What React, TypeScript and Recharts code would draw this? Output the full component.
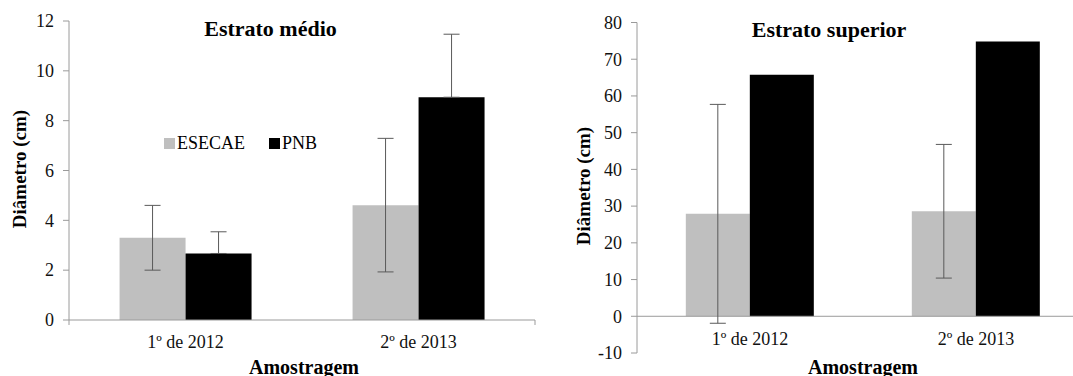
import React from 'react';
import { BarChart, Bar, XAxis, YAxis, ErrorBar, ReferenceLine } from 'recharts';

const samplings = ['1º de 2012', '2º de 2013'];

// Estrato médio (cm)
const medioEsecae = [3.3, 4.61];
const medioEsecaeErr = [1.3, 2.68];
const medioPnb = [2.67, 8.94];
const medioPnbErr = [0.87, 2.53];
const medioTicks = [0, 2, 4, 6, 8, 10, 12];

// Estrato superior (cm)
const superiorEsecae = [27.9, 28.6];
const superiorEsecaeErr = [29.8, 18.2];
const superiorPnb = [65.8, 74.8];
const superiorTicks = [-10, 0, 10, 20, 30, 40, 50, 60, 70, 80];

const series = [
  { key: 'esecae', name: 'ESECAE', color: '#bfbfbf' },
  { key: 'pnb', name: 'PNB', color: '#000000' },
];

const medioData = samplings.map((s, i) => ({
  amostragem: s,
  esecae: medioEsecae[i],
  esecaeErr: medioEsecaeErr[i],
  pnb: medioPnb[i],
  pnbErr: [0, medioPnbErr[i]],
}));

const superiorData = samplings.map((s, i) => ({
  amostragem: s,
  esecae: superiorEsecae[i],
  esecaeErr: superiorEsecaeErr[i],
  pnb: superiorPnb[i],
}));

const font = "'Liberation Serif', 'Times New Roman', serif";
const axisGray = '#9a9a9a';
const errColor = '#5a5a5a';
const labelStyle: React.CSSProperties = { fontFamily: font, fontSize: 18, fill: '#111' };

// tick text drawn by hand so the serif face and size stick
const CategoryTick = (props: any) => (
  <text x={props.x} y={props.y} dy="0.71em" textAnchor="middle" style={labelStyle}>
    {props.payload.value}
  </text>
);

const ValueTick = (props: any) => (
  <text x={props.x} y={props.y} dy="0.35em" textAnchor="end" style={labelStyle}>
    {props.payload.value}
  </text>
);

const textBox = (left: number, top: number, size: number, bold: boolean, rotate = 0): React.CSSProperties => ({
  position: 'absolute',
  left,
  top,
  transform: `translate(-50%, -50%) rotate(${rotate}deg)`,
  fontFamily: font,
  fontSize: size,
  fontWeight: bold ? 'bold' : 'normal',
  lineHeight: 1,
  whiteSpace: 'nowrap',
  color: '#000',
});

function MedioChart() {
  return (
    <BarChart
      width={560}
      height={376}
      data={medioData}
      margin={{ top: 21, right: 25, bottom: 26, left: 9 }}
      barCategoryGap="21.7%"
      barGap={0}
    >
      <XAxis
        dataKey="amostragem"
        interval={0}
        height={30}
        axisLine={{ stroke: axisGray }}
        tickLine={false}
        tickSize={6}
        tickMargin={9}
        tick={<CategoryTick />}
      />
      <XAxis xAxisId="edge" type="number" domain={[0, 2]} hide />
      <YAxis
        domain={[0, 12]}
        ticks={medioTicks}
        width={60}
        axisLine={{ stroke: axisGray }}
        tickLine={{ stroke: axisGray }}
        tickSize={6}
        tickMargin={9}
        tick={<ValueTick />}
      />
      {[0, 1].map((x) => (
        <ReferenceLine
          key={x}
          xAxisId="edge"
          segment={[{ x, y: 0 }, { x, y: -0.2 }]}
          stroke={axisGray}
          ifOverflow="visible"
        />
      ))}
      <Bar dataKey="esecae" name="ESECAE" fill={series[0].color} isAnimationActive={false}>
        <ErrorBar dataKey="esecaeErr" direction="y" width={8} stroke={errColor} strokeWidth={1} isAnimationActive={false} />
      </Bar>
      <Bar dataKey="pnb" name="PNB" fill={series[1].color} isAnimationActive={false}>
        <ErrorBar dataKey="pnbErr" direction="y" width={8} stroke={errColor} strokeWidth={1} isAnimationActive={false} />
      </Bar>
    </BarChart>
  );
}

function SuperiorChart() {
  return (
    <BarChart
      width={540}
      height={376}
      data={superiorData}
      margin={{ top: 22.5, right: 11, bottom: 3, left: 17 }}
      barCategoryGap="21.6%"
      barGap={0}
    >
      {/* labels sit just under the zero line, not under the -10 floor */}
      <XAxis
        dataKey="amostragem"
        interval={0}
        height={20}
        axisLine={false}
        tickLine={false}
        tickSize={6}
        tickMargin={-27}
        tick={<CategoryTick />}
      />
      <XAxis xAxisId="edge" type="number" domain={[0, 2]} hide />
      <YAxis
        domain={[-10, 80]}
        ticks={superiorTicks}
        width={60}
        axisLine={{ stroke: axisGray }}
        tickLine={{ stroke: axisGray }}
        tickSize={6}
        tickMargin={9}
        tick={<ValueTick />}
      />
      <ReferenceLine y={0} stroke={axisGray} />
      <ReferenceLine
        xAxisId="edge"
        segment={[{ x: 1, y: 0 }, { x: 1, y: -1.4 }]}
        stroke={axisGray}
        ifOverflow="visible"
      />
      <Bar dataKey="esecae" name="ESECAE" fill={series[0].color} isAnimationActive={false}>
        <ErrorBar dataKey="esecaeErr" direction="y" width={8} stroke={errColor} strokeWidth={1} isAnimationActive={false} />
      </Bar>
      <Bar dataKey="pnb" name="PNB" fill={series[1].color} isAnimationActive={false} />
    </BarChart>
  );
}

export default function App() {
  return (
    <div
      style={{
        position: 'absolute',
        left: 0,
        top: 0,
        width: 1073,
        height: 376,
        overflow: 'hidden',
        background: '#fff',
      }}
    >
      <div style={{ position: 'absolute', left: 0, top: 0 }}>
        <MedioChart />
      </div>
      <div style={{ position: 'absolute', left: 560, top: 0 }}>
        <SuperiorChart />
      </div>

      <div style={textBox(270.5, 29, 22, true)}>Estrato médio</div>
      <div style={textBox(829, 29.5, 22, true)}>Estrato superior</div>
      <div style={textBox(19, 169, 19, true, -90)}>Diâmetro (cm)</div>
      <div style={textBox(583, 186, 19, true, -90)}>Diâmetro (cm)</div>
      <div style={textBox(304, 366.5, 20, true)}>Amostragem</div>
      <div style={textBox(863, 366.5, 20, true)}>Amostragem</div>

      <div
        style={{
          position: 'absolute',
          left: 164,
          top: 134,
          height: 18,
          display: 'flex',
          alignItems: 'center',
          fontFamily: font,
          fontSize: 18,
          lineHeight: 1,
        }}
      >
        {series.map((s) => (
          <div key={s.key} style={{ display: 'flex', alignItems: 'center', marginRight: 24 }}>
            <span style={{ width: 11, height: 11, background: s.color, marginRight: 2 }} />
            <span>{s.name}</span>
          </div>
        ))}
      </div>
    </div>
  );
}
